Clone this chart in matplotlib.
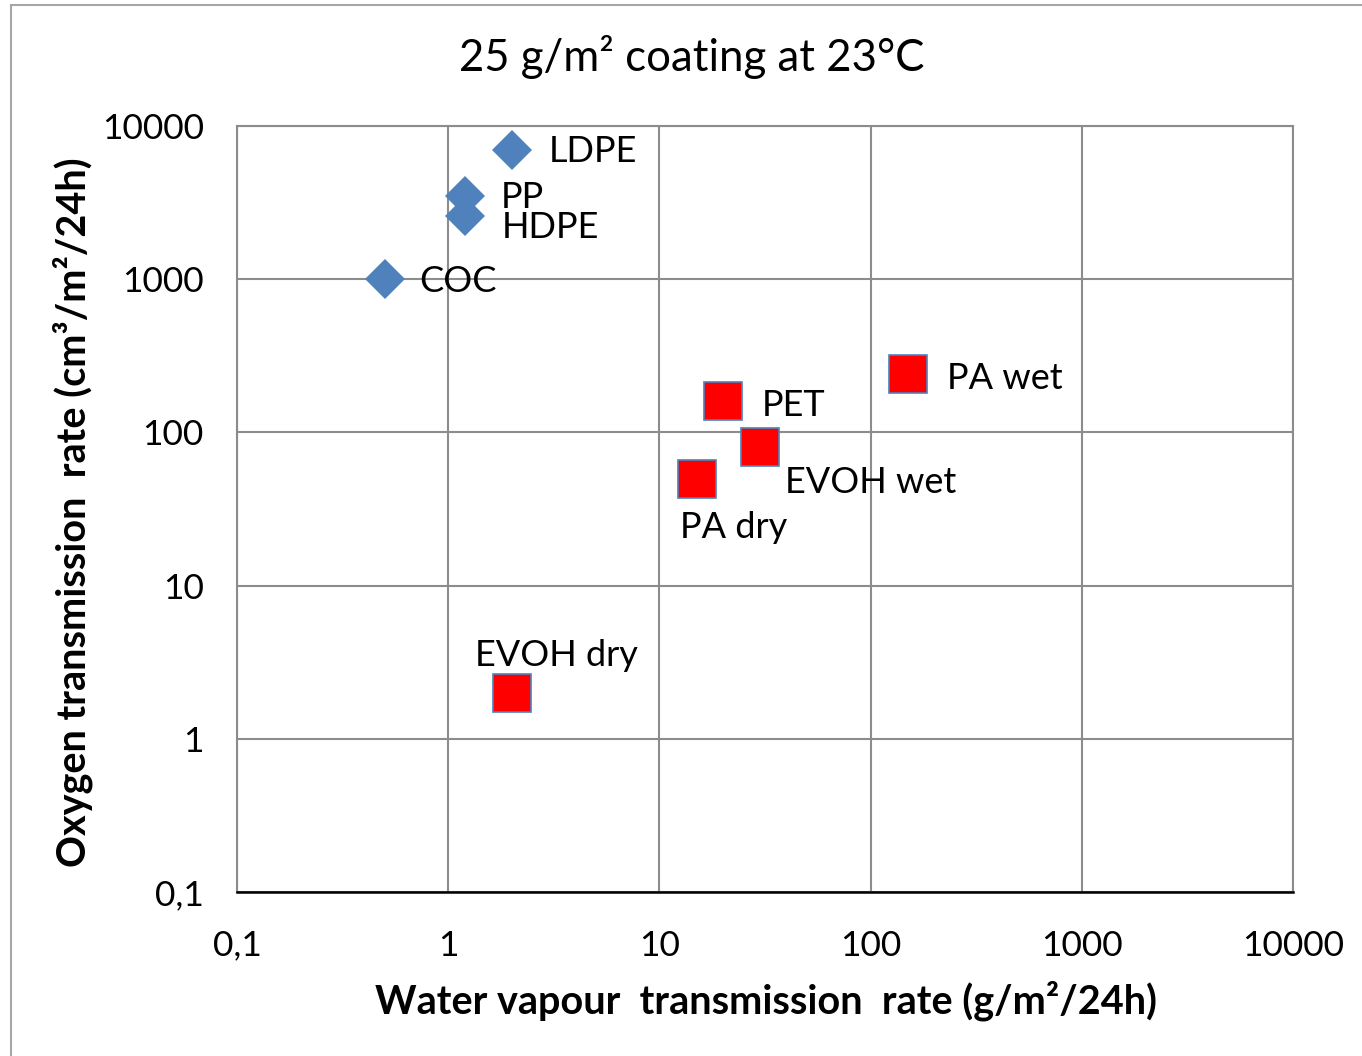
import matplotlib
matplotlib.use('Agg')
import matplotlib.pyplot as plt
from matplotlib.patches import Rectangle
from matplotlib.ticker import FixedLocator, FixedFormatter

plt.rcParams['font.family'] = ['Lato', 'DejaVu Sans']

# polyolefins (blue diamonds)
poly_names = ['LDPE', 'PP', 'HDPE', 'COC']
poly_wvtr = [2.0, 1.2, 1.2, 0.5]
poly_otr = [7000, 3500, 2600, 1000]

# barrier polymers (red squares)
barrier_names = ['PA wet', 'PET', 'EVOH wet', 'PA dry', 'EVOH dry']
barrier_wvtr = [150, 20, 30, 15, 2.0]
barrier_otr = [240, 160, 80, 50, 2.0]

tick_values = [0.1, 1, 10, 100, 1000, 10000]
tick_labels = ['0,1', '1', '10', '100', '1000', '10000']

# label offsets in pixels (dx, dy)
poly_offsets = [(37, -2), (36, -2), (37, -12), (35, -2)]
barrier_offsets = [(39, -4), (39, -4), (25, -35), (-17, -49), (-37, 37)]

fig = plt.figure(figsize=(13.62, 10.56), dpi=100)
ax = fig.add_axes([237 / 1362, 1 - 892 / 1056, (1293 - 237) / 1362, (892 - 126) / 1056])

ax.set_xscale('log')
ax.set_yscale('log')
ax.set_xlim(0.1, 10000)
ax.set_ylim(0.1, 10000)

grid_color = '#8c8c8c'
ax.grid(True, which='major', color=grid_color, linewidth=1.5)
ax.set_axisbelow(True)
for side in ['left', 'top', 'right']:
    ax.spines[side].set_color(grid_color)
    ax.spines[side].set_linewidth(1.5)
ax.spines['bottom'].set_color('black')
ax.spines['bottom'].set_linewidth(1.8)

ax.xaxis.set_major_locator(FixedLocator(tick_values))
ax.xaxis.set_major_formatter(FixedFormatter(tick_labels))
ax.yaxis.set_major_locator(FixedLocator(tick_values))
ax.yaxis.set_major_formatter(FixedFormatter(tick_labels))
ax.xaxis.set_minor_locator(FixedLocator([]))
ax.yaxis.set_minor_locator(FixedLocator([]))
ax.tick_params(axis='both', length=0, labelsize=25.5)
ax.tick_params(axis='x', pad=27)
ax.tick_params(axis='y', pad=24)

ax.plot(poly_wvtr, poly_otr, linestyle='none', marker='D', markersize=20,
        color='#4f81bd', markeredgewidth=0, zorder=3)
ax.plot(barrier_wvtr, barrier_otr, linestyle='none', marker='s', markersize=27,
        markerfacecolor='#ff0000', markeredgecolor='#4f81bd', markeredgewidth=1.2, zorder=3)

for name, x, y, off in zip(poly_names, poly_wvtr, poly_otr, poly_offsets):
    ax.annotate(name, (x, y), xytext=off, textcoords='offset pixels',
                ha='left', va='center', fontsize=26, zorder=4)
for name, x, y, off in zip(barrier_names, barrier_wvtr, barrier_otr, barrier_offsets):
    ax.annotate(name, (x, y), xytext=off, textcoords='offset pixels',
                ha='left', va='center', fontsize=26, zorder=4)

ax.set_xlabel('Water vapour  transmission  rate (g/m\u00b2/24h)', fontsize=28.5,
              fontweight='bold', va='center')
ax.set_ylabel('Oxygen transmission  rate (cm\u00b3/m\u00b2/24h)', fontsize=28.5,
              fontweight='bold', va='center')
ax.xaxis.set_label_coords((766 - 237) / 1056, (892 - 1001) / 766)
ax.yaxis.set_label_coords((73 - 237) / 1056, (892 - 512) / 766)

fig.text(692 / 1362, 1 - 57 / 1056, '25 g/m\u00b2 coating at 23\u00b0C', fontsize=31.5,
         ha='center', va='center')

# chart frame
fig.patches.append(Rectangle((11 / 1362, -0.01), 1.0, 1 - 5 / 1056 + 0.01,
                             transform=fig.transFigure, fill=False,
                             edgecolor='#a6a6a6', linewidth=1.5))

fig.savefig('out.png', dpi=100)
